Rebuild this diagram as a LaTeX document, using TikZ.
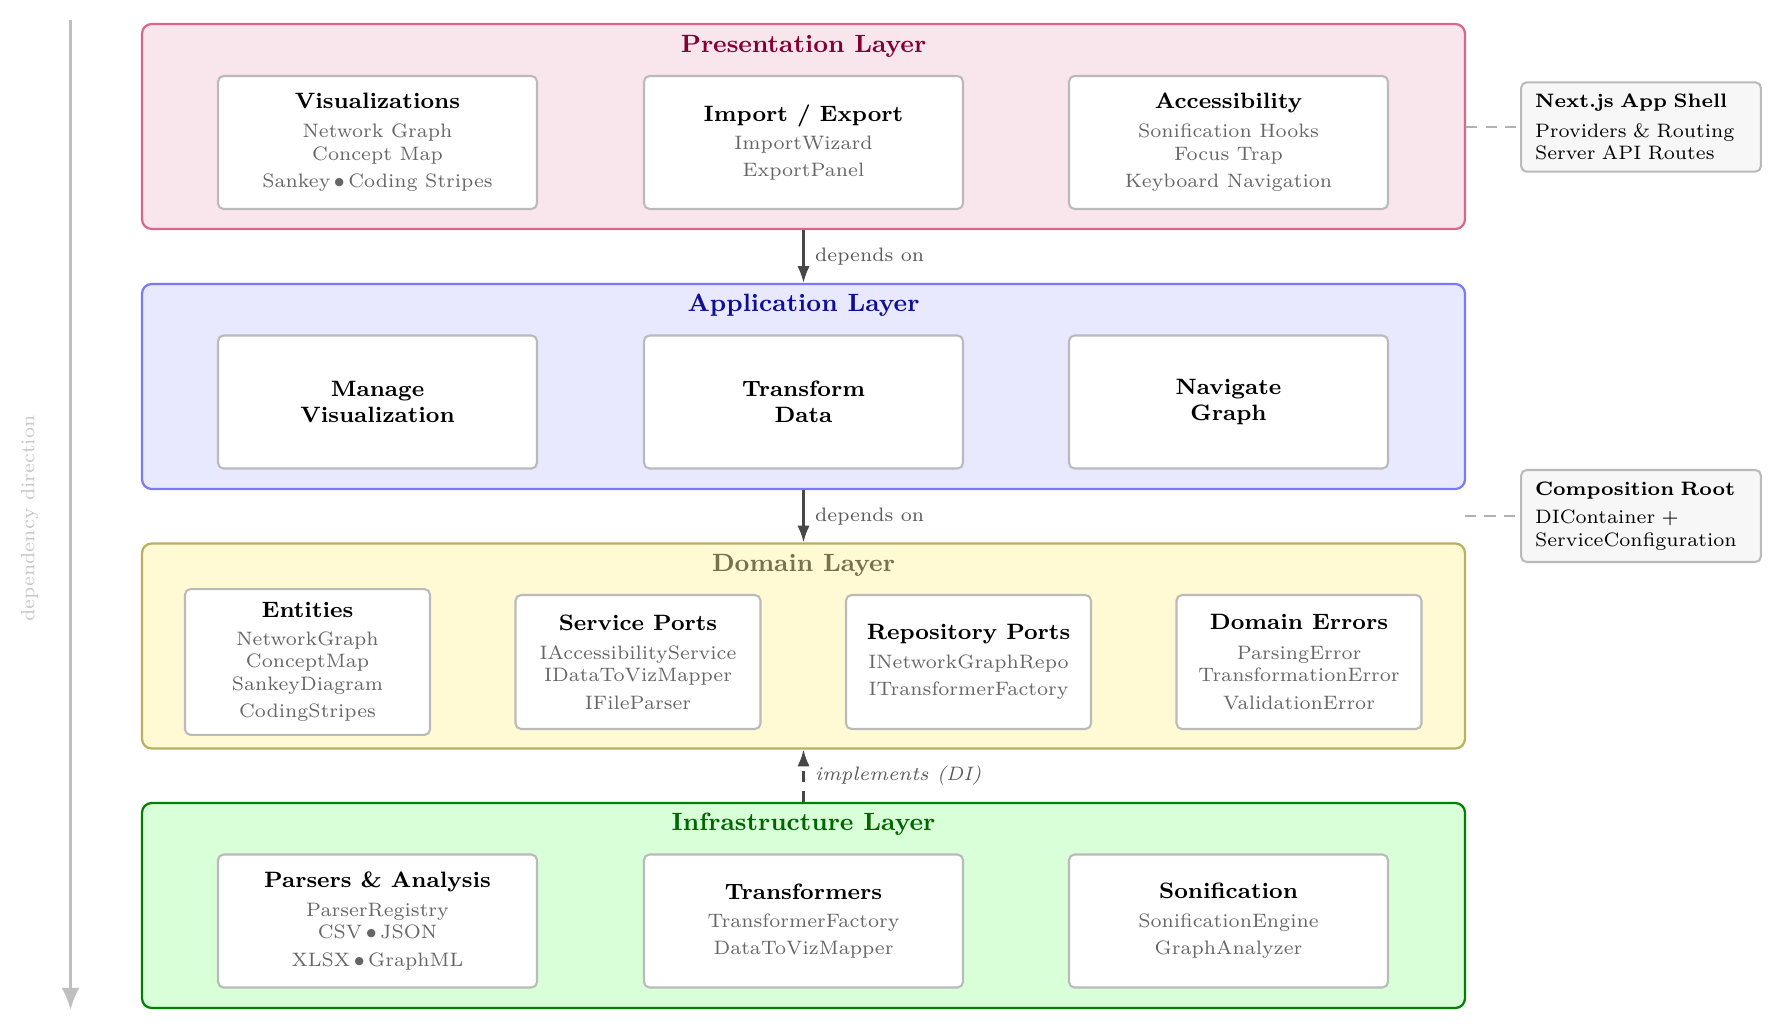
\documentclass[tikz,border=0pt]{standalone}
\usetikzlibrary{arrows.meta}
\definecolor{presfill}{RGB}{249,230,236}
\definecolor{presdraw}{RGB}{217,102,140}
\definecolor{prestext}{RGB}{130,0,50}
\definecolor{appfill}{RGB}{232,232,255}
\definecolor{appdraw}{RGB}{122,122,245}
\definecolor{apptext}{RGB}{15,15,150}
\definecolor{domfill}{RGB}{255,250,212}
\definecolor{domdraw}{RGB}{185,175,92}
\definecolor{domtext}{RGB}{118,114,78}
\definecolor{inffill}{RGB}{217,255,217}
\definecolor{infdraw}{RGB}{0,128,0}
\definecolor{inftext}{RGB}{0,100,0}
\def\PX{0.36pt}
\newcommand\boxtitle[1]{{\footnotesize\bfseries\color{black}#1}}
\newcommand\sep{\,$\bullet$\,}
\begin{document}
\begin{tikzpicture}[x=0.36pt,y=-0.36pt,
  layer/.style={draw, line width=0.8pt, rounded corners=3.5pt, minimum width=1323*\PX, minimum height=205*\PX, inner sep=0pt},
  ltitle/.style={font=\small\bfseries, inner sep=0pt},
  box/.style={draw=black!27, line width=0.75pt, fill=white, rounded corners=2pt, align=center, font=\scriptsize, text=black!60, inner sep=4.7pt},
  wbox/.style={box, minimum width=319*\PX, minimum height=133*\PX},
  dbox/.style={box, minimum width=245*\PX, minimum height=134*\PX},
  appbox/.style={wbox, font=\footnotesize\bfseries, text=black},
  side/.style={draw=black!27, line width=0.75pt, fill=black!3, rounded corners=2pt, align=left, font=\scriptsize, text=black, text width=212*\PX, inner xsep=5pt, inner ysep=4.3pt},
  dep/.style={-{Latex[length=6pt,width=4.4pt]}, line width=0.8pt, draw=black!72},
  lab/.style={font=\scriptsize, text=black!65, anchor=west, inner sep=2pt, xshift=1.8pt},
  link/.style={draw=black!30, line width=0.8pt, dash pattern=on 4pt off 3pt}
]
\useasboundingbox (0,0) rectangle (1783,1033);

% dependency direction axis
\coordinate (dtop) at (70.5,20.5);
\coordinate (dbot) at (70.5,1010);
\draw[draw=black!25, line width=1.1pt, -{Latex[length=8pt,width=6.5pt]}] (dtop) -- (dbot);
\node[rotate=90, font=\scriptsize, text=black!22] (dlab) at (29.6,518.5) {dependency direction};

% layers
\node[layer, draw=presdraw, fill=presfill] (pres) at (803.5,126.5) {};
\node[layer, draw=appdraw, fill=appfill] (app) at (803.5,386.5) {};
\node[layer, draw=domdraw, fill=domfill] (dom) at (803.5,646) {};
\node[layer, draw=infdraw, fill=inffill] (inf) at (803.5,905.5) {};

\node[ltitle, text=prestext] (prest) at (803.5,46) {Presentation Layer};
\node[ltitle, text=apptext] (appt) at (803.5,305.5) {Application Layer};
\node[ltitle, text=domtext] (domt) at (803.5,565) {Domain Layer};
\node[ltitle, text=inftext] (inft) at (803.5,824.5) {Infrastructure Layer};

% presentation boxes
\node[wbox] (viz) at (377.5,142.5) {\boxtitle{Visualizations}\\[2.5pt] Network Graph\\ Concept Map\\[2pt] Sankey\sep Coding Stripes};
\node[wbox] (imex) at (803.5,142.5) {\boxtitle{Import / Export}\\[2.3pt] ImportWizard\\[1.8pt] ExportPanel};
\node[wbox] (acc) at (1228.5,142.5) {\boxtitle{Accessibility}\\[2.5pt] Sonification Hooks\\ Focus Trap\\[2pt] Keyboard Navigation};

% application boxes
\node[appbox] (manage) at (377.5,402) {Manage\\Visualization};
\node[appbox] (transform) at (803.5,402) {Transform\\Data};
\node[appbox] (navigate) at (1228.5,402) {Navigate\\Graph};

% domain boxes
\node[dbox] (ent) at (307.5,662) {\boxtitle{Entities}\\[2.2pt] NetworkGraph\\ ConceptMap\\ SankeyDiagram\\[2pt] CodingStripes};
\node[dbox] (sports) at (638,662) {\boxtitle{Service Ports}\\[2.5pt] IAccessibilityService\\ IDataToVizMapper\\[2pt] IFileParser};
\node[dbox] (rports) at (968.5,662) {\boxtitle{Repository Ports}\\[2.3pt] INetworkGraphRepo\\[1.8pt] ITransformerFactory};
\node[dbox] (derr) at (1299,662) {\boxtitle{Domain Errors}\\[2.5pt] ParsingError\\ TransformationError\\[2pt] ValidationError};

% infrastructure boxes
\node[wbox] (parsers) at (377.5,921) {\boxtitle{Parsers \& Analysis}\\[2.5pt] ParserRegistry\\ CSV\sep JSON\\[2pt] XLSX\sep GraphML};
\node[wbox] (transf) at (803.5,921) {\boxtitle{Transformers}\\[2.3pt] TransformerFactory\\[1.8pt] DataToVizMapper};
\node[wbox] (sonif) at (1228.5,921) {\boxtitle{Sonification}\\[2.3pt] SonificationEngine\\[1.8pt] GraphAnalyzer};

% side notes
\node[side] (shell) at (1641,127) {\textbf{Next.js App Shell}\\[2.5pt] Providers \& Routing\\ Server API Routes};
\node[side] (croot) at (1641,516) {\textbf{Composition Root}\\[2.2pt] DIContainer +\\ ServiceConfiguration};
\coordinate (crootend) at (1465,516);
\draw[link] (pres.east |- shell.west) -- (shell.west);
\draw[link] (crootend) -- (croot.west);

% dependencies
\draw[dep] (pres.south) -- (app.north) node[lab, midway] (l1) {depends on};
\draw[dep] (app.south) -- (dom.north) node[lab, midway] (l2) {depends on};
\draw[dep, dash pattern=on 4pt off 3pt] (inf.north) -- (dom.south) node[lab, midway, font=\scriptsize\itshape] (l3) {implements (DI)};
\end{tikzpicture}
\end{document}
